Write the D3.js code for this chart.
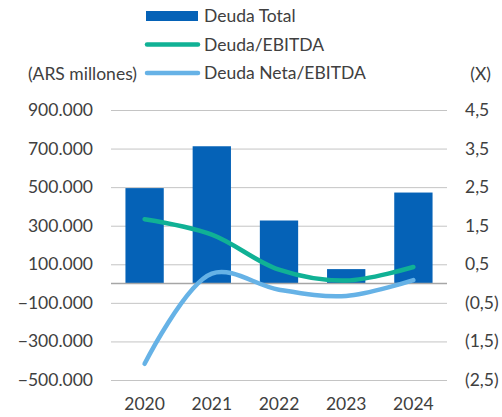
<!DOCTYPE html>
<html>
<head>
<meta charset="utf-8">
<script src="https://cdn.jsdelivr.net/npm/d3@7"></script>
<style>
  body { margin: 0; background: #fff; }
  text { font-family: Lato, "Open Sans", sans-serif; fill: #404040; }
</style>
</head>
<body>
<div id="area"></div>
<script>
const years = ['2020', '2021', '2022', '2023', '2024']
const deudaTotal = [495000, 712000, 327000, 75000, 472000]
const deudaEbitda = [1.67, 1.27, 0.36, 0.08, 0.43]
const netaEbitda = [-2.08, 0.26, -0.16, -0.32, 0.09]
const leftTicks = [-500000, -300000, -100000, 100000, 300000, 500000, 700000, 900000]
const rightTicks = [-2.5, -1.5, -0.5, 0.5, 1.5, 2.5, 3.5, 4.5]

const svg = d3.select('#area')
            .append('svg')
            .attr('width', 502)
            .attr('height', 417)

const xScale = d3.scaleBand()
              .domain(years)
              .range([111, 447])
              .paddingInner(0.43)
              .paddingOuter(0.215)
const yLeft = d3.scaleLinear()
              .domain([-500000, 900000])
              .range([380, 110])
const yRight = d3.scaleLinear()
              .domain([-2.5, 4.5])
              .range([380, 110])

const fmtLeft = d3.formatLocale({decimal: ',', thousands: '.', grouping: [3], currency: ['', '']}).format(',.0f')
const fmtRight = v => {
  const s = Math.abs(v).toFixed(1).replace('.', ',')
  return v < 0 ? '(' + s + ')' : s
}

// gridlines
svg.selectAll('.grid')
    .data(leftTicks)
    .enter()
    .append('line')
    .attr('x1', 111)
    .attr('x2', 447)
    .attr('y1', d => yLeft(d) + 0.5)
    .attr('y2', d => yLeft(d) + 0.5)
    .attr('stroke', '#c4c4c4')
    .attr('stroke-width', 1)

// left axis labels
svg.selectAll('.lt')
    .data(leftTicks)
    .enter()
    .append('text')
    .attr('x', 93)
    .attr('y', d => yLeft(d) + 6)
    .attr('text-anchor', 'end')
    .style('font-size', '17.5px')
    .text(d => fmtLeft(d))

// right axis labels
svg.selectAll('.rt')
    .data(rightTicks)
    .enter()
    .append('text')
    .attr('x', 465)
    .attr('y', d => yRight(d) + 6)
    .style('font-size', '17.5px')
    .text(d => fmtRight(d))

// bars
svg.selectAll('rect.bar')
    .data(deudaTotal)
    .enter()
    .append('rect')
    .attr('class', 'bar')
    .attr('x', (d, i) => xScale(years[i]))
    .attr('y', d => yLeft(d))
    .attr('width', xScale.bandwidth())
    .attr('height', d => yLeft(0) - yLeft(d))
    .attr('fill', '#0562B7')

// zero line
svg.append('line')
    .attr('x1', 111)
    .attr('x2', 447)
    .attr('y1', yLeft(0))
    .attr('y2', yLeft(0))
    .attr('stroke', '#a6a6a6')
    .attr('stroke-width', 1.5)

const line = d3.line()
              .x((d, i) => xScale(years[i]) + xScale.bandwidth() / 2)
              .y(d => yRight(d))
              .curve(d3.curveCatmullRom.alpha(0.5))

svg.append('path')
    .attr('d', line(netaEbitda))
    .attr('fill', 'none')
    .attr('stroke', '#66B2E6')
    .attr('stroke-width', 4.5)
    .attr('stroke-linecap', 'round')

svg.append('path')
    .attr('d', line(deudaEbitda))
    .attr('fill', 'none')
    .attr('stroke', '#10B195')
    .attr('stroke-width', 4.5)
    .attr('stroke-linecap', 'round')

// x labels
svg.selectAll('.year')
    .data(years)
    .enter()
    .append('text')
    .attr('x', d => xScale(d) + xScale.bandwidth() / 2)
    .attr('y', 410)
    .attr('text-anchor', 'middle')
    .style('font-size', '17.5px')
    .text(d => d)

// legend
const legend = [
  {name: 'Deuda Total', type: 'bar', color: '#0562B7'},
  {name: 'Deuda/EBITDA', type: 'line', color: '#10B195'},
  {name: 'Deuda Neta/EBITDA', type: 'line', color: '#66B2E6'}
]
const lg = svg.selectAll('.lg')
    .data(legend)
    .enter()
    .append('g')
    .attr('transform', (d, i) => `translate(0, ${16 + i * 28.5})`)
lg.filter(d => d.type == 'bar')
    .append('rect')
    .attr('x', 146)
    .attr('y', -5)
    .attr('width', 52)
    .attr('height', 10)
    .attr('fill', d => d.color)
lg.filter(d => d.type == 'line')
    .append('line')
    .attr('x1', 147)
    .attr('x2', 198)
    .attr('y1', 0)
    .attr('y2', 0)
    .attr('stroke', d => d.color)
    .attr('stroke-width', 4.5)
    .attr('stroke-linecap', 'round')
lg.append('text')
    .attr('x', 204)
    .attr('y', 6)
    .style('font-size', '17.5px')
    .text(d => d.name)

svg.append('text')
    .attr('x', 137)
    .attr('y', 80)
    .attr('text-anchor', 'end')
    .style('font-size', '17.5px')
    .text('(ARS millones)')

svg.append('text')
    .attr('x', 491)
    .attr('y', 80)
    .attr('text-anchor', 'end')
    .style('font-size', '17.5px')
    .text('(X)')
</script>
</body>
</html>
